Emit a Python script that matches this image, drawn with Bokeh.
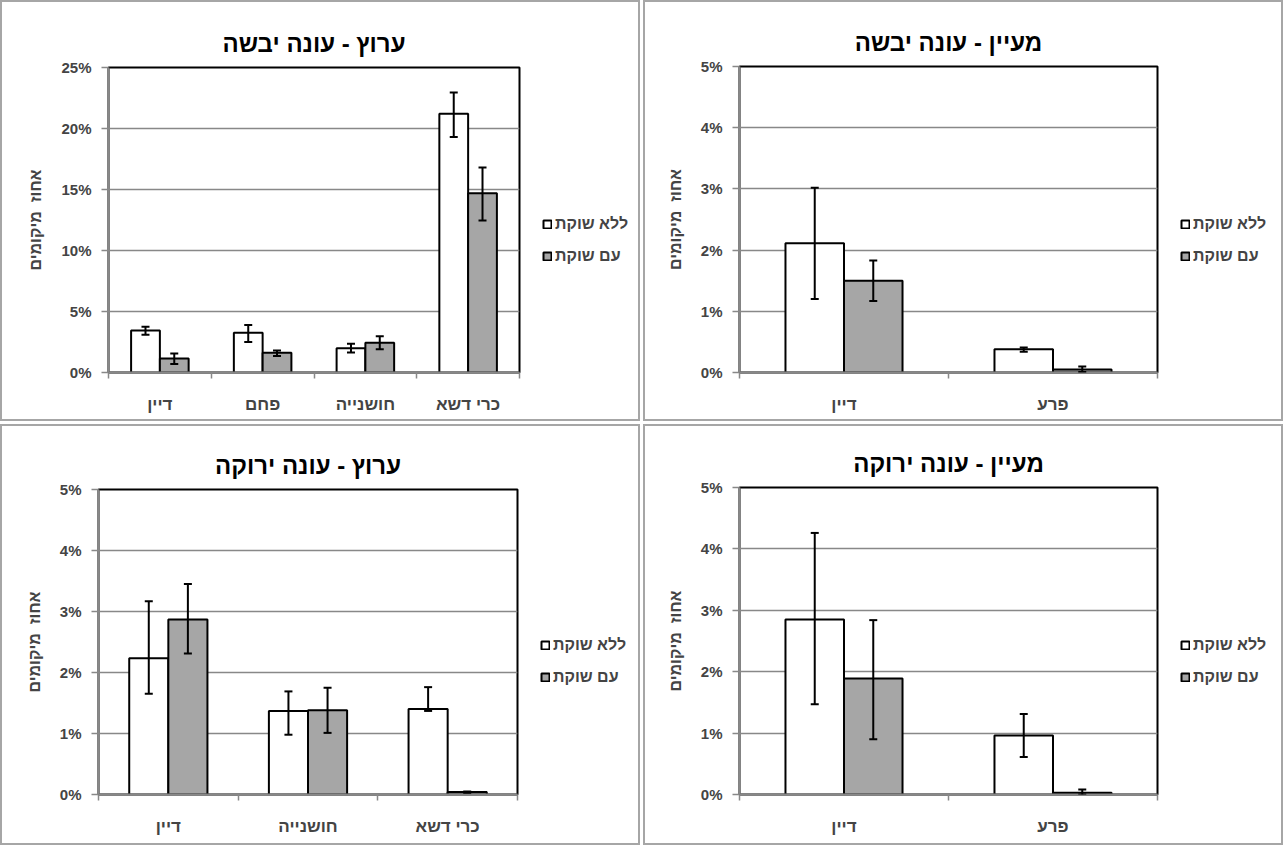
from bokeh.plotting import figure
from bokeh.models import (FactorRange, Range1d, LinearAxis, CategoricalAxis, FixedTicker,
                          PrintfTickFormatter, Whisker, TeeHead, ColumnDataSource, Legend, LegendItem)
from bokeh.transform import dodge
from bokeh.layouts import row, column
from bokeh.embed import file_html
from bokeh.resources import INLINE

FONT = "Liberation Sans"

series_names = ["ללא שוקת", "עם שוקת"]
series_colors = ["#ffffff", "#a6a6a6"]
y_label = "אחוז\u00a0 מיקומים"

# Panel A: ערוץ - עונה יבשה
a_title = "ערוץ - עונה יבשה"
a_cats = ["דיין", "פחם", "חושנייה", "כרי דשא"]
a_without = [3.45, 3.25, 1.99, 21.2]
a_without_lo = [3.1, 2.5, 1.64, 19.3]
a_without_hi = [3.75, 3.9, 2.35, 22.95]
a_with = [1.15, 1.61, 2.43, 14.7]
a_with_lo = [0.7, 1.35, 1.9, 12.45]
a_with_hi = [1.55, 1.8, 2.97, 16.8]
a_yticks = [0, 5, 10, 15, 20, 25]

# Panel B: מעיין - עונה יבשה
b_title = "מעיין - עונה יבשה"
b_cats = ["דיין", "פרע"]
b_without = [2.11, 0.38]
b_without_lo = [1.2, 0.34]
b_without_hi = [3.02, 0.41]
b_with = [1.5, 0.05]
b_with_lo = [1.17, 0.01]
b_with_hi = [1.83, 0.10]
b_yticks = [0, 1, 2, 3, 4, 5]

# Panel C: ערוץ - עונה ירוקה
c_title = "ערוץ - עונה ירוקה"
c_cats = ["דיין", "חושנייה", "כרי דשא"]
c_without = [2.235, 1.37, 1.4]
c_without_lo = [1.65, 0.98, 1.37]
c_without_hi = [3.17, 1.69, 1.76]
c_with = [2.87, 1.38, 0.04]
c_with_lo = [2.31, 1.01, 0.03]
c_with_hi = [3.45, 1.75, 0.05]
c_yticks = [0, 1, 2, 3, 4, 5]

# Panel D: מעיין - עונה ירוקה
d_title = "מעיין - עונה ירוקה"
d_cats = ["דיין", "פרע"]
d_without = [2.85, 0.96]
d_without_lo = [1.47, 0.61]
d_without_hi = [4.26, 1.31]
d_with = [1.89, 0.03]
d_with_lo = [0.9, 0.0]
d_with_hi = [2.84, 0.08]
d_yticks = [0, 1, 2, 3, 4, 5]

W, H = 636, 417
GRID = "#888888"
RIGHT_PAD = 6


def make_panel(title, cats, wo, wo_lo, wo_hi, wi, wi_lo, wi_hi, yticks,
               left, fw, top, fh, leg_y):
    bottom = H - top - fh
    cw = left + fw + RIGHT_PAD
    src = ColumnDataSource(dict(cats=cats, wo=wo, wo_lo=wo_lo, wo_hi=wo_hi,
                                wi=wi, wi_lo=wi_lo, wi_hi=wi_hi))
    p = figure(x_range=FactorRange(*cats), y_range=Range1d(yticks[0], yticks[-1]),
               width=cw, height=H,
               min_border_left=left, min_border_right=RIGHT_PAD,
               min_border_top=top, min_border_bottom=bottom,
               x_axis_location=None, y_axis_location=None,
               output_backend="svg", toolbar_location=None, tools="")
    p.outline_line_color = "black"
    p.outline_line_width = 2
    p.background_fill_color = "white"
    p.border_fill_color = "white"

    # title
    p.title.text = title
    p.title.align = "center"
    p.title.offset = -9
    p.title.text_font = FONT
    p.title.text_font_size = "24px"
    p.title.text_font_style = "bold"
    p.title.text_color = "black"
    p.title.standoff = 22

    # y axis (left)
    yax = LinearAxis(ticker=FixedTicker(ticks=yticks),
                     formatter=PrintfTickFormatter(format="%d%%"))
    yax.axis_label = y_label
    yax.axis_label_text_font = FONT
    yax.axis_label_text_font_size = "16px"
    yax.axis_label_text_font_style = "bold"
    yax.axis_label_standoff = 14
    yax.major_label_text_font = FONT
    yax.major_label_text_font_size = "15px"
    yax.major_label_text_font_style = "bold"
    yax.axis_line_color = GRID
    yax.axis_line_width = 2
    yax.major_tick_line_color = GRID
    yax.major_tick_line_width = 1.5
    yax.major_tick_out = 7
    yax.major_tick_in = 0
    yax.minor_tick_line_color = None
    yax.major_label_standoff = 10
    p.add_layout(yax, "left")

    # x tick axis at category boundaries (synthetic coordinates 0..N), no labels
    tax = LinearAxis(ticker=FixedTicker(ticks=list(range(0, len(cats) + 1))))
    tax.major_label_text_font_size = "1px"
    tax.major_label_text_color = None
    tax.major_label_standoff = 0
    tax.axis_line_color = GRID
    tax.axis_line_width = 2
    tax.major_tick_line_color = GRID
    tax.major_tick_line_width = 1.5
    tax.major_tick_out = 6
    tax.major_tick_in = 0
    tax.minor_tick_line_color = None
    p.add_layout(tax, "below")

    # category labels
    xax = CategoricalAxis()
    xax.axis_line_color = None
    xax.major_tick_line_color = None
    xax.minor_tick_line_color = None
    xax.major_label_text_font = FONT
    xax.major_label_text_font_size = "17px"
    xax.major_label_text_font_style = "bold"
    xax.major_label_standoff = 10
    p.add_layout(xax, "below")

    p.xgrid.visible = False
    p.ygrid.ticker = FixedTicker(ticks=yticks)
    p.ygrid.grid_line_color = GRID
    p.ygrid.grid_line_width = 1.5

    off = 0.14
    bw = 0.28
    p.vbar(x=dodge("cats", -off, range=p.x_range), top="wo", width=bw, source=src,
           fill_color=series_colors[0], line_color="black", line_width=2)
    p.vbar(x=dodge("cats", off, range=p.x_range), top="wi", width=bw, source=src,
           fill_color=series_colors[1], line_color="black", line_width=2)

    for key, o in (("wo", -off), ("wi", off)):
        wk = Whisker(source=src, base=dodge("cats", o, range=p.x_range),
                     lower=key + "_lo", upper=key + "_hi", level="annotation",
                     line_color="black", line_width=2,
                     upper_head=TeeHead(size=8, line_width=2, line_color="black"),
                     lower_head=TeeHead(size=8, line_width=2, line_color="black"))
        p.add_layout(wk)

    # legend lives in its own small figure to the right of the plot area;
    # its key glyphs come from hidden proxy renderers
    lw = W - cw
    lf = figure(width=lw, height=H, x_range=Range1d(0, 1), y_range=Range1d(0, 1),
                min_border=0, x_axis_location=None, y_axis_location=None,
                output_backend="svg", toolbar_location=None, tools="")
    lf.outline_line_color = None
    lf.xgrid.visible = False
    lf.ygrid.visible = False
    lf.background_fill_color = "white"
    lf.border_fill_color = "white"
    k1 = lf.vbar(x=[-5], top=[-5], bottom=[-6], width=0.1, fill_color=series_colors[0],
                 line_color="black", line_width=2, visible=False)
    k2 = lf.vbar(x=[-5], top=[-5], bottom=[-6], width=0.1, fill_color=series_colors[1],
                 line_color="black", line_width=2, visible=False)
    leg = Legend(items=[LegendItem(label=series_names[0], renderers=[k1]),
                        LegendItem(label=series_names[1], renderers=[k2])],
                 location=(23 - RIGHT_PAD, leg_y))
    leg.click_policy = "none"
    leg.inactive_fill_alpha = 0
    leg.glyph_width = 10
    leg.glyph_height = 10
    leg.label_text_font = FONT
    leg.label_text_font_size = "16px"
    leg.label_text_font_style = "bold"
    leg.label_standoff = 3
    leg.label_height = 20
    leg.spacing = 12
    leg.border_line_color = None
    leg.background_fill_alpha = 0
    leg.margin = 0
    leg.padding = 0
    lf.add_layout(leg)

    return row(p, lf, spacing=0, styles={"border": "2px solid #a6a6a6"})


pa = make_panel(a_title, a_cats, a_without, a_without_lo, a_without_hi,
                a_with, a_with_lo, a_with_hi, a_yticks, 106, 411, 65, 305, 106)
pb = make_panel(b_title, b_cats, b_without, b_without_lo, b_without_hi,
                b_with, b_with_lo, b_with_hi, b_yticks, 94, 418, 64, 306, 106)
pc = make_panel(c_title, c_cats, c_without, c_without_lo, c_without_hi,
                c_with, c_with_lo, c_with_hi, c_yticks, 96, 419, 63, 305, 107)
pd = make_panel(d_title, d_cats, d_without, d_without_lo, d_without_hi,
                d_with, d_with_lo, d_with_hi, d_yticks, 94, 418, 61, 307, 107)

layout = column(row(pa, pb, spacing=3), row(pc, pd, spacing=3), spacing=3)

open("out.html", "w").write(file_html(layout, INLINE))
